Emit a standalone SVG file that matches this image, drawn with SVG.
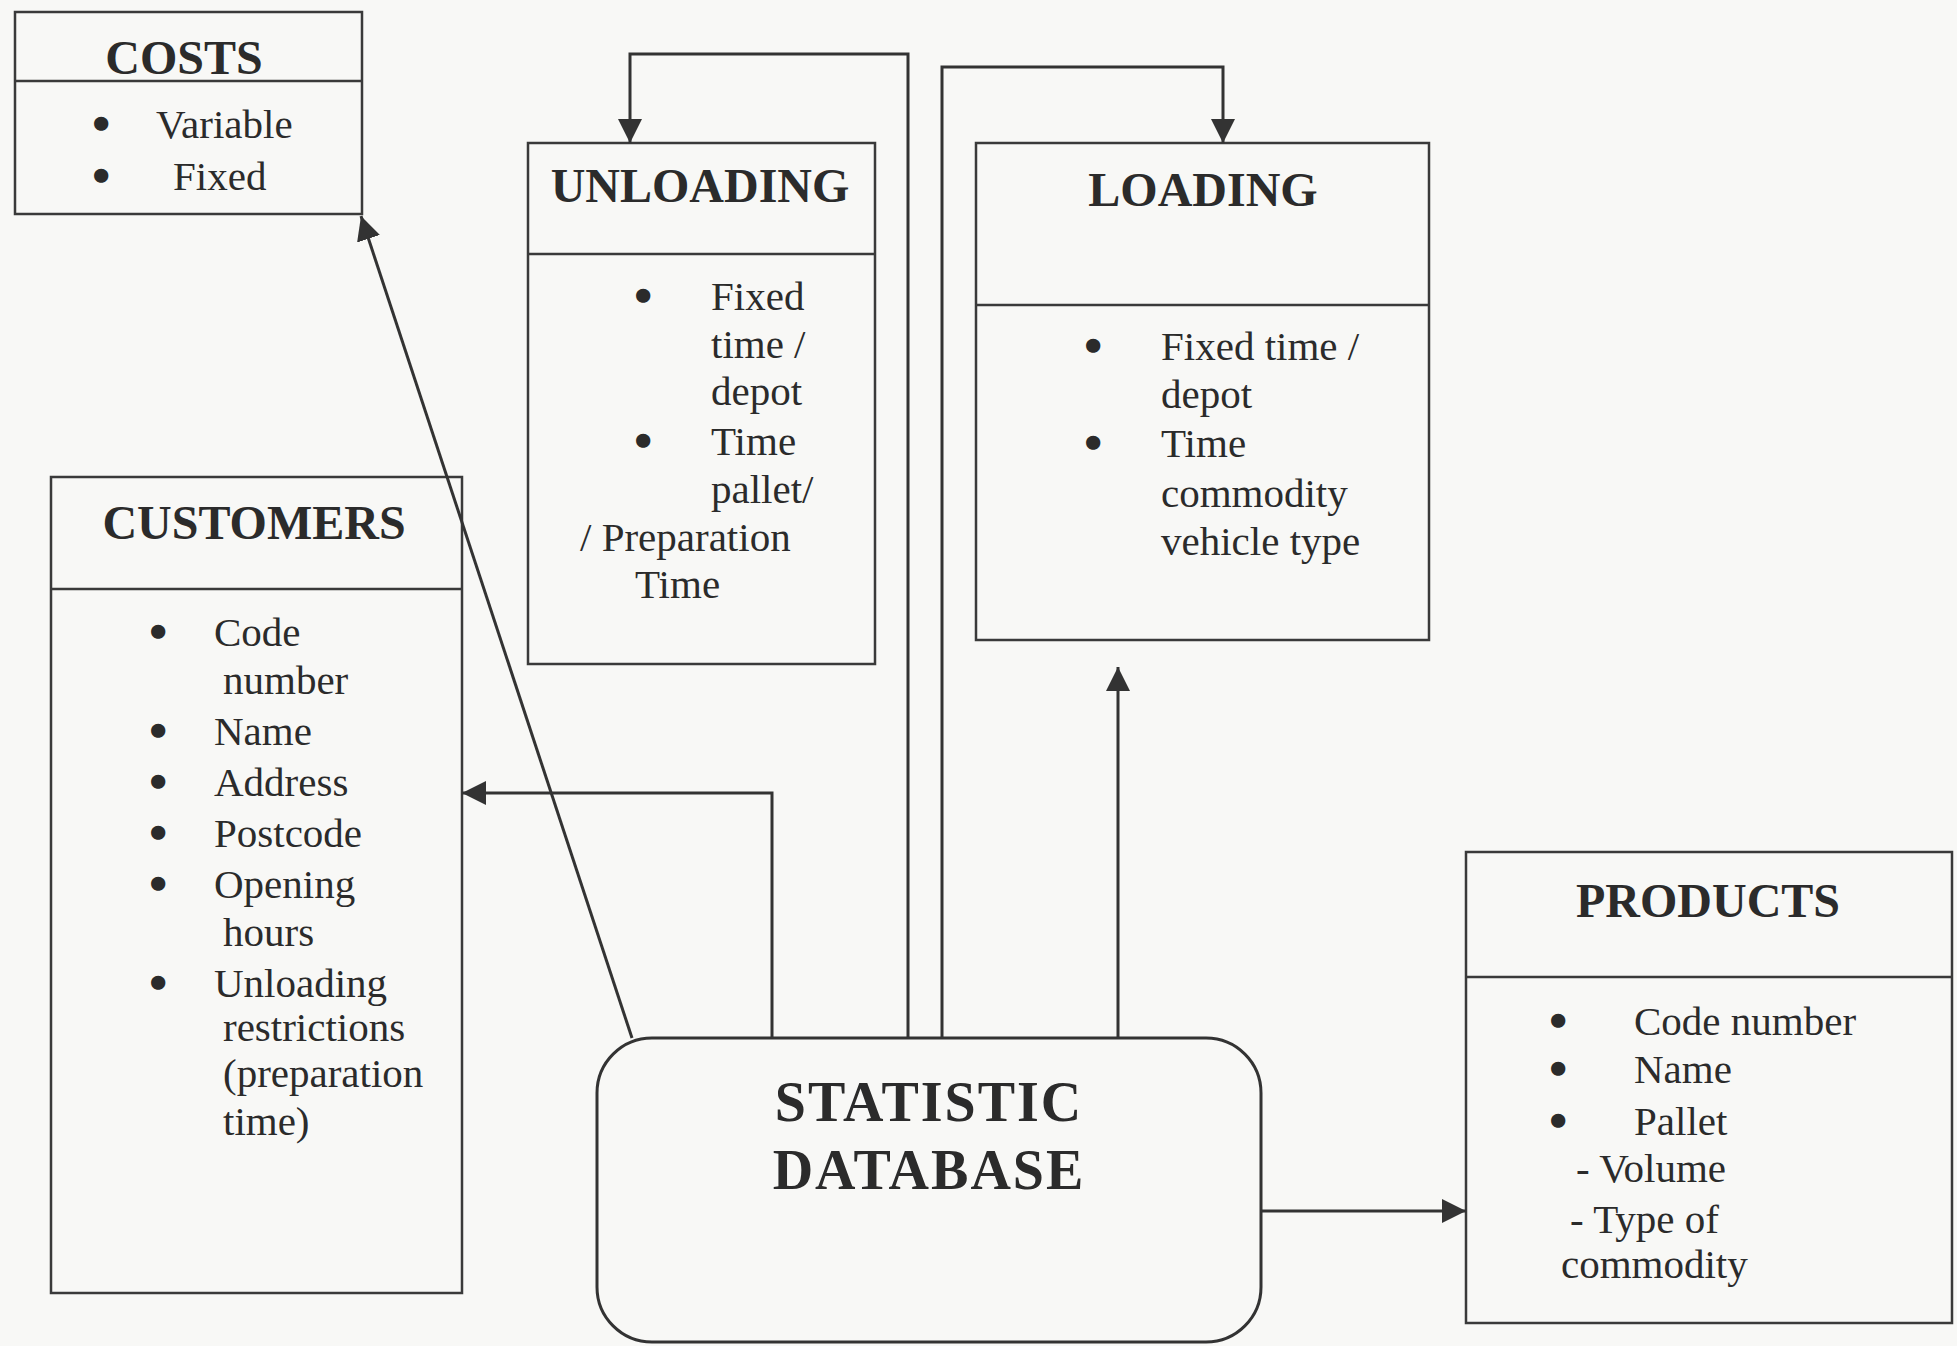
<svg xmlns="http://www.w3.org/2000/svg" width="1957" height="1346" viewBox="0 0 1957 1346">
<style>
.box{fill:none;stroke:#3a3a3a;stroke-width:2.5}
.con{fill:none;stroke:#333;stroke-width:3}
.t{font-family:"Liberation Serif","Times New Roman",serif;fill:#2b2b2b}
.h{font-weight:bold;font-size:48px}
.b{font-size:41px}
.u{font-family:"Liberation Serif","Times New Roman",serif;fill:#2b2b2b;font-size:41px;stroke:#2b2b2b;stroke-width:4.5}
</style>
<defs>
<marker id="ah" viewBox="0 0 24 24" refX="24" refY="12" markerWidth="24" markerHeight="24" markerUnits="userSpaceOnUse" orient="auto">
<path d="M0,0 L24,12 L0,24 z" fill="#333"/>
</marker>
</defs>
<rect width="1957" height="1346" fill="#f8f8f6"/>

<g id="costs">
<rect class="box" x="15" y="12" width="347" height="202"/>
<line class="box" x1="15" y1="81" x2="362" y2="81"/>
<text class="t h" x="184" y="74" text-anchor="middle" font-size="49">COSTS</text>
<text class="u" x="94" y="138">•</text>
<text class="t b" x="156" y="138">Variable</text>
<text class="u" x="94" y="190">•</text>
<text class="t b" x="173" y="190">Fixed</text>
</g>

<g id="unloading">
<rect class="box" x="528" y="143" width="347" height="521"/>
<line class="box" x1="528" y1="254" x2="875" y2="254"/>
<text class="t h" x="700" y="202" text-anchor="middle" font-size="45">UNLOADING</text>
<text class="u" x="636" y="310">•</text>
<text class="t b" x="711" y="310">Fixed</text>
<text class="t b" x="711" y="358">time /</text>
<text class="t b" x="711" y="405">depot</text>
<text class="u" x="636" y="455">•</text>
<text class="t b" x="711" y="455">Time</text>
<text class="t b" x="711" y="503">pallet/</text>
<text class="t b" x="580" y="551">/ Preparation</text>
<text class="t b" x="635" y="598">Time</text>
</g>

<g id="loading">
<rect class="box" x="976" y="143" width="453" height="497"/>
<line class="box" x1="976" y1="305" x2="1429" y2="305"/>
<text class="t h" x="1203" y="206" text-anchor="middle">LOADING</text>
<text class="u" x="1086" y="360">•</text>
<text class="t b" x="1161" y="360">Fixed time /</text>
<text class="t b" x="1161" y="408">depot</text>
<text class="u" x="1086" y="457">•</text>
<text class="t b" x="1161" y="457">Time</text>
<text class="t b" x="1161" y="507">commodity</text>
<text class="t b" x="1161" y="555">vehicle type</text>
</g>

<g id="customers">
<rect class="box" x="51" y="477" width="411" height="816"/>
<line class="box" x1="51" y1="589" x2="462" y2="589"/>
<text class="t h" x="254" y="539" text-anchor="middle" font-size="49">CUSTOMERS</text>
<text class="u" x="151" y="646">•</text>
<text class="t b" x="214" y="646">Code</text>
<text class="t b" x="223" y="694">number</text>
<text class="u" x="151" y="745">•</text>
<text class="t b" x="214" y="745">Name</text>
<text class="u" x="151" y="796">•</text>
<text class="t b" x="214" y="796">Address</text>
<text class="u" x="151" y="847">•</text>
<text class="t b" x="214" y="847">Postcode</text>
<text class="u" x="151" y="898">•</text>
<text class="t b" x="214" y="898">Opening</text>
<text class="t b" x="223" y="946">hours</text>
<text class="u" x="151" y="997">•</text>
<text class="t b" x="214" y="997">Unloading</text>
<text class="t b" x="223" y="1041" font-size="37">restrictions</text>
<text class="t b" x="223" y="1087">(preparation</text>
<text class="t b" x="223" y="1135">time)</text>
</g>

<g id="products">
<rect class="box" x="1466" y="852" width="486" height="471"/>
<line class="box" x1="1466" y1="977" x2="1952" y2="977"/>
<text class="t h" x="1708" y="917" text-anchor="middle" font-size="49">PRODUCTS</text>
<text class="u" x="1551" y="1035">•</text>
<text class="t b" x="1634" y="1035">Code number</text>
<text class="u" x="1551" y="1083">•</text>
<text class="t b" x="1634" y="1083">Name</text>
<text class="u" x="1551" y="1135">•</text>
<text class="t b" x="1634" y="1135">Pallet</text>
<text class="t b" x="1576" y="1182">- Volume</text>
<text class="t b" x="1570" y="1233">- Type of</text>
<text class="t b" x="1561" y="1278">commodity</text>
</g>

<g id="database">
<rect x="597" y="1038" width="664" height="304" rx="55" ry="55" fill="none" stroke="#333" stroke-width="3"/>
<text class="t" x="929" y="1121" text-anchor="middle" font-weight="bold" font-size="56" letter-spacing="2">STATISTIC</text>
<text class="t" x="929" y="1189" text-anchor="middle" font-weight="bold" font-size="56" letter-spacing="2">DATABASE</text>
</g>

<g id="connectors">
<polyline class="con" points="908,1038 908,54 630,54 630,143" marker-end="url(#ah)"/>
<polyline class="con" points="942,1038 942,67 1223,67 1223,143" marker-end="url(#ah)"/>
<line class="con" x1="632" y1="1038" x2="361" y2="216" marker-end="url(#ah)"/>
<polyline class="con" points="772,1038 772,793 462,793" marker-end="url(#ah)"/>
<line class="con" x1="1118" y1="1038" x2="1118" y2="667" marker-end="url(#ah)"/>
<line class="con" x1="1261" y1="1211" x2="1466" y2="1211" marker-end="url(#ah)"/>
</g>
</svg>
